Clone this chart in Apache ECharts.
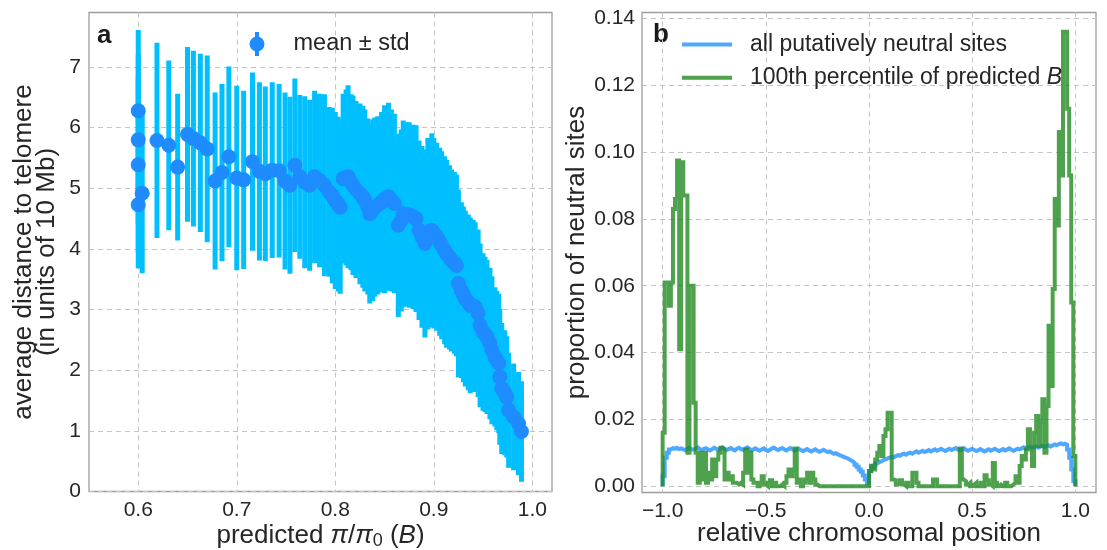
<!DOCTYPE html>
<html>
<head>
<meta charset="utf-8">
<script src="https://cdn.jsdelivr.net/npm/echarts@6/dist/echarts.min.js"></script>
<style>
  html, body { margin: 0; padding: 0; background: #fff; }
  #chart { width: 1107px; height: 550px; }
</style>
</head>
<body>
<div id="chart"></div>
<script>
// ---- Panel a: distance to telomere vs predicted B (mean ± std per B bin) ----
const predB = [
  0.600, 0.600, 0.600, 0.600, 0.604, 0.619, 0.631, 0.640, 0.650, 0.656,
  0.663, 0.670, 0.678, 0.685, 0.692, 0.700, 0.707, 0.716, 0.723, 0.729,
  0.736, 0.743, 0.749, 0.754, 0.759, 0.764, 0.769, 0.774, 0.779, 0.784,
  0.789, 0.794, 0.797, 0.800, 0.803, 0.805, 0.808, 0.811, 0.813, 0.816,
  0.818, 0.821, 0.825, 0.828, 0.830, 0.833, 0.835, 0.838, 0.840, 0.843,
  0.847, 0.850, 0.854, 0.857, 0.860, 0.864, 0.867, 0.869, 0.872, 0.875,
  0.879, 0.882, 0.885, 0.888, 0.891, 0.894, 0.898, 0.900, 0.903, 0.906,
  0.908, 0.911, 0.913, 0.916, 0.918, 0.921, 0.923, 0.925, 0.928, 0.930,
  0.932, 0.935, 0.937, 0.940, 0.942, 0.945, 0.947, 0.950, 0.952, 0.954,
  0.957, 0.959, 0.962, 0.964, 0.966, 0.967, 0.969, 0.972, 0.974, 0.976,
  0.981, 0.986, 0.989
];
const meanDist = [
  6.28, 5.80, 5.39, 4.73, 4.92, 5.79, 5.71, 5.35, 5.89, 5.82,
  5.75, 5.65, 5.12, 5.26, 5.52, 5.17, 5.14, 5.44, 5.28, 5.24,
  5.30, 5.29, 5.12, 5.05, 5.38, 5.19, 5.10, 5.05, 5.19, 5.13,
  5.05, 4.94, 4.88, 4.80, 4.74, 4.69, 5.16, 5.18, 5.19, 5.10,
  5.05, 4.98, 4.91, 4.86, 4.80, 4.70, 4.58, 4.64, 4.69, 4.72,
  4.77, 4.82, 4.86, 4.80, 4.75, 4.39, 4.47, 4.58, 4.57, 4.56,
  4.53, 4.50, 4.31, 4.20, 4.09, 4.25, 4.31, 4.26, 4.20, 4.12,
  4.06, 3.98, 3.92, 3.86, 3.81, 3.77, 3.73, 3.43, 3.32, 3.25,
  3.18, 3.12, 3.07, 3.06, 3.04, 2.94, 2.74, 2.63, 2.59, 2.55,
  2.44, 2.33, 2.22, 2.16, 2.11, 1.89, 1.70, 1.63, 1.56, 1.34,
  1.23, 1.12, 0.99
];
const stdDist = [
  1.33, 1.40, 1.45, 1.05, 1.32, 1.61, 1.40, 1.21, 1.44, 1.45,
  1.47, 1.54, 1.46, 1.46, 1.49, 1.52, 1.47, 1.47, 1.47, 1.44,
  1.45, 1.43, 1.46, 1.46, 1.43, 1.35, 1.42, 1.41, 1.42, 1.43,
  1.50, 1.40, 1.45, 1.46, 1.44, 1.43, 1.40, 1.45, 1.51, 1.45,
  1.48, 1.46, 1.49, 1.50, 1.50, 1.45, 1.48, 1.50, 1.48, 1.47,
  1.49, 1.55, 1.55, 1.50, 1.48, 1.51, 1.50, 1.54, 1.52, 1.53,
  1.52, 1.54, 1.48, 1.50, 1.55, 1.58, 1.60, 1.57, 1.55, 1.55,
  1.55, 1.55, 1.55, 1.52, 1.50, 1.50, 1.50, 1.55, 1.45, 1.45,
  1.45, 1.45, 1.45, 1.42, 1.40, 1.38, 1.35, 1.30, 1.28, 1.27,
  1.25, 1.22, 1.15, 1.15, 1.15, 1.12, 1.08, 1.03, 1.00, 0.95,
  0.88, 0.85, 0.83
];

// ---- Panel b: proportion of neutral sites along chromosome (bins of 0.01 from -1) ----
const binStart = -1.0;
const binWidth = 0.01;
const neutralAll = [
  0.0030, 0.0085, 0.0100, 0.0110, 0.0114, 0.0112, 0.0115, 0.0111, 0.0113, 0.0110,
  0.0108, 0.0112, 0.0115, 0.0110, 0.0109, 0.0113, 0.0116, 0.0111, 0.0108, 0.0112,
  0.0114, 0.0110, 0.0107, 0.0111, 0.0115, 0.0112, 0.0109, 0.0113, 0.0116, 0.0112,
  0.0108, 0.0111, 0.0114, 0.0110, 0.0107, 0.0112, 0.0115, 0.0111, 0.0109, 0.0113,
  0.0116, 0.0112, 0.0108, 0.0110, 0.0113, 0.0109, 0.0106, 0.0110, 0.0113, 0.0108,
  0.0105, 0.0109, 0.0113, 0.0115, 0.0111, 0.0108, 0.0112, 0.0114, 0.0110, 0.0107,
  0.0111, 0.0114, 0.0110, 0.0106, 0.0109, 0.0112, 0.0108, 0.0105, 0.0108, 0.0111,
  0.0107, 0.0104, 0.0107, 0.0110, 0.0106, 0.0103, 0.0106, 0.0109, 0.0105, 0.0102,
  0.0104, 0.0100, 0.0097, 0.0099, 0.0095, 0.0092, 0.0090, 0.0087, 0.0085, 0.0082,
  0.0078, 0.0075, 0.0070, 0.0064, 0.0058, 0.0050, 0.0043, 0.0032, 0.0020, 0.0008,
  0.0045, 0.0055, 0.0062, 0.0068, 0.0072, 0.0074, 0.0078, 0.0080, 0.0083, 0.0085,
  0.0088, 0.0086, 0.0090, 0.0093, 0.0091, 0.0095, 0.0097, 0.0094, 0.0098, 0.0100,
  0.0097, 0.0101, 0.0104, 0.0100, 0.0103, 0.0106, 0.0102, 0.0105, 0.0108, 0.0104,
  0.0107, 0.0110, 0.0106, 0.0109, 0.0112, 0.0108, 0.0105, 0.0109, 0.0112, 0.0108,
  0.0111, 0.0114, 0.0110, 0.0107, 0.0110, 0.0113, 0.0109, 0.0106, 0.0109, 0.0112,
  0.0108, 0.0105, 0.0108, 0.0111, 0.0107, 0.0104, 0.0107, 0.0110, 0.0106, 0.0109,
  0.0112, 0.0108, 0.0105, 0.0108, 0.0111, 0.0107, 0.0110, 0.0113, 0.0109, 0.0106,
  0.0109, 0.0112, 0.0110, 0.0113, 0.0116, 0.0112, 0.0115, 0.0118, 0.0114, 0.0117,
  0.0119, 0.0115, 0.0118, 0.0121, 0.0117, 0.0120, 0.0122, 0.0119, 0.0122, 0.0125,
  0.0123, 0.0126, 0.0128, 0.0125, 0.0127, 0.0124, 0.0110, 0.0085, 0.0050, 0.0015
];
const neutralTopB = [
  0.016, 0.061, 0.061, 0.054, 0.061, 0.083, 0.086, 0.0975, 0.041, 0.097,
  0.087, 0.087, 0.010, 0.060, 0.060, 0.025, 0.010, 0.001, 0.010, 0.002,
  0.010, 0.001, 0.004, 0.002, 0.008, 0.003, 0.008, 0.010, 0.0115, 0.011,
  0.002, 0.004, 0.002, 0.003, 0.001, 0.001, 0.0005, 0.001, 0.0005, 0.004,
  0.011, 0.004, 0.010, 0.002, 0.001, 0.001, 0.0, 0.001, 0.003, 0.0005,
  0.0, 0.001, 0.0018, 0.0, 0.001, 0.0, 0.0, 0.0005, 0.0, 0.001,
  0.003, 0.005, 0.003, 0.005, 0.0113, 0.001, 0.002, 0.0, 0.001, 0.002,
  0.004, 0.001, 0.004, 0.002, 0.0005, 0.0, 0.0, 0.0, 0.0, 0.0,
  0.0, 0.0, 0.0, 0.0, 0.0, 0.0, 0.0, 0.0, 0.0, 0.0,
  0.0, 0.0, 0.0, 0.0, 0.0, 0.0, 0.0, 0.0, 0.0, 0.0,
  0.0045, 0.006, 0.005, 0.008, 0.010, 0.012, 0.009, 0.015, 0.017, 0.022,
  0.022, 0.002, 0.0018, 0.0005, 0.001, 0.0018, 0.0005, 0.0, 0.001, 0.0,
  0.0, 0.004, 0.004, 0.001, 0.0, 0.0, 0.0, 0.0, 0.0, 0.0,
  0.0, 0.002, 0.002, 0.0, 0.0, 0.0, 0.0, 0.0, 0.0, 0.0,
  0.0, 0.0, 0.0, 0.0, 0.0113, 0.002, 0.0015, 0.0005, 0.001, 0.0,
  0.0005, 0.001, 0.0, 0.0, 0.001, 0.0, 0.0033, 0.0018, 0.0005, 0.0,
  0.0069, 0.001, 0.0, 0.0005, 0.0, 0.0, 0.001, 0.0, 0.0, 0.0005,
  0.001, 0.003, 0.001, 0.006, 0.009, 0.008, 0.011, 0.017, 0.012, 0.006,
  0.016, 0.021, 0.012, 0.019, 0.026, 0.010, 0.024, 0.048, 0.030, 0.059,
  0.086, 0.078, 0.106, 0.093, 0.136, 0.136, 0.113, 0.093, 0.055, 0.009
];

// ---- Tick labels ----
const xTicksA = [0.6, 0.7, 0.8, 0.9, 1.0];
const xTickLabelsA = ['0.6', '0.7', '0.8', '0.9', '1.0'];
const yTicksA = [0, 1, 2, 3, 4, 5, 6, 7];
const yTickLabelsA = ['0', '1', '2', '3', '4', '5', '6', '7'];
const xTicksB = [-1.0, -0.5, 0.0, 0.5, 1.0];
const xTickLabelsB = ['\u22121.0', '\u22120.5', '0.0', '0.5', '1.0'];
const yTicksB = [0, 0.02, 0.04, 0.06, 0.08, 0.10, 0.12, 0.14];
const yTickLabelsB = ['0.00', '0.02', '0.04', '0.06', '0.08', '0.10', '0.12', '0.14'];

// ---- Layout ----
const FONT = 'Liberation Sans, Arial, Helvetica, sans-serif';
const TEXT = '#262626';
const frameA = { left: 89, top: 12.5, right: 552, bottom: 491.5 };
const frameB = { left: 642, top: 12.5, right: 1096, bottom: 492.5 };
const xRangeA = [0.55, 1.02], yRangeA = [0, 7.9];
const xRangeB = [-1.1, 1.1], yRangeB = [-0.0019, 0.1418];

function gridRect(f) {
  return { left: f.left, top: f.top, width: f.right - f.left, height: f.bottom - f.top };
}
// sub-grid spanning only the tick range along one direction, full frame along the other
function tickGrid(f, range, lo, hi, dir) {
  if (dir === 'x') {
    const k = (f.right - f.left) / (range[1] - range[0]);
    return { left: f.left + (lo - range[0]) * k, width: (hi - lo) * k, top: f.top, height: f.bottom - f.top };
  }
  const k = (f.bottom - f.top) / (range[1] - range[0]);
  return { left: f.left, width: f.right - f.left, top: f.top + (range[1] - hi) * k, height: (hi - lo) * k };
}
function labelFor(ticks, labels) {
  return v => {
    let best = 0;
    ticks.forEach((t, i) => { if (Math.abs(t - v) < Math.abs(ticks[best] - v)) best = i; });
    return labels[best];
  };
}

const splitStyle = { show: true, lineStyle: { color: '#c4c4c4', width: 1, type: [5, 4] } };
const labelStyle = { fontFamily: FONT, fontSize: 21, color: TEXT, showMinLabel: true, showMaxLabel: true };

function frameAxis(range, extra) {
  return Object.assign({
    type: 'value', min: range[0], max: range[1],
    axisLine: { show: false }, axisTick: { show: false },
    axisLabel: { show: false }, splitLine: { show: false },
    nameLocation: 'middle'
  }, extra);
}
function tickAxis(grid, ticks, labels, margin, extra) {
  return Object.assign({
    gridIndex: grid, type: 'value',
    min: ticks[0], max: ticks[ticks.length - 1], interval: ticks[1] - ticks[0],
    axisLine: { show: false }, axisTick: { show: false },
    axisLabel: Object.assign({ margin: margin, formatter: labelFor(ticks, labels) }, labelStyle),
    splitLine: splitStyle
  }, extra || {});
}
function dummyAxis(grid) {
  return { gridIndex: grid, type: 'value', min: 0, max: 1, show: false };
}

function histPoints(values) {
  const pts = [[binStart, 0]];
  values.forEach((v, i) => pts.push([+(binStart + (i + 1) * binWidth).toFixed(4), v]));
  pts.push([+(binStart + values.length * binWidth).toFixed(4), 0]);
  return pts;
}

const gridCommon = { containLabel: false, outerBoundsMode: 'none' };
const frameStyle = { show: true, borderColor: '#9d9d9d', borderWidth: 1.3, backgroundColor: 'transparent' };
const grids = [
  Object.assign({}, frameStyle, gridCommon, gridRect(frameA)),
  Object.assign({}, gridCommon, tickGrid(frameA, xRangeA, xTicksA[0], xTicksA[xTicksA.length - 1], 'x')),
  Object.assign({}, gridCommon, tickGrid(frameA, yRangeA, yTicksA[0], yTicksA[yTicksA.length - 1], 'y')),
  Object.assign({}, frameStyle, gridCommon, gridRect(frameB)),
  Object.assign({}, gridCommon, tickGrid(frameB, xRangeB, xTicksB[0], xTicksB[xTicksB.length - 1], 'x')),
  Object.assign({}, gridCommon, tickGrid(frameB, yRangeB, yTicksB[0], yTicksB[yTicksB.length - 1], 'y'))
];

const titleStyle = { fontFamily: FONT, fontSize: 26, color: TEXT };

const xAxes = [
  frameAxis(xRangeA, {
    gridIndex: 0,
    name: 'predicted {i|\u03c0}/{i|\u03c0}{s|0} ({i|B})',
    nameGap: 29,
    nameTextStyle: Object.assign({}, titleStyle, {
      lineHeight: 30,
      rich: {
        i: Object.assign({}, titleStyle, { fontStyle: 'italic', lineHeight: 30 }),
        s: { fontFamily: FONT, fontSize: 18, color: TEXT, verticalAlign: 'bottom' }
      }
    })
  }),
  tickAxis(1, xTicksA, xTickLabelsA, 8),
  dummyAxis(2),
  frameAxis(xRangeB, {
    gridIndex: 3,
    name: 'relative chromosomal position',
    nameGap: 28,
    nameTextStyle: titleStyle
  }),
  tickAxis(4, xTicksB, xTickLabelsB, 8),
  dummyAxis(5)
];
const yAxes = [
  frameAxis(yRangeA, {
    gridIndex: 0,
    name: 'average distance to telomere\n(in units of 10 Mb)',
    nameGap: 31,
    nameTextStyle: Object.assign({}, titleStyle, { lineHeight: 23 })
  }),
  dummyAxis(1),
  tickAxis(2, yTicksA, yTickLabelsA, 8),
  frameAxis(yRangeB, {
    gridIndex: 3,
    name: 'proportion of neutral sites',
    nameGap: 52,
    nameTextStyle: titleStyle
  }),
  dummyAxis(4),
  tickAxis(5, yTicksB, yTickLabelsB, 7)
];

const ERR_COLOR = '#00bfff';
const MEAN_COLOR = '#1e8cff';
const BLUE = 'rgba(30,144,255,0.78)';
const GREEN = 'rgba(34,139,34,0.8)';

const errData = predB.map((b, i) => [b, meanDist[i], stdDist[i]]);
const meanData = predB.map((b, i) => [b, meanDist[i]]);

const option = {
  animation: false,
  backgroundColor: '#ffffff',
  grid: grids,
  xAxis: xAxes,
  yAxis: yAxes,
  legend: [
    {
      left: 244.5, top: 27, orient: 'vertical', selectedMode: false,
      data: [{ name: 'mean \u00b1 std',
        icon: 'path://M5.5,0 H9.5 V24 H5.5 Z M0,12 A7.5,7.5 0 1,1 15,12 A7.5,7.5 0 1,1 0,12 Z' }],
      itemWidth: 15, itemHeight: 24,
      textStyle: { fontFamily: FONT, fontSize: 23.5, color: TEXT, lineHeight: 24, padding: [0, 0, 0, 24] }
    },
    {
      left: 677, top: 27.5, orient: 'vertical', selectedMode: false,
      data: ['all putatively neutral sites', '100th percentile of predicted B'],
      icon: 'rect', itemWidth: 50, itemHeight: 4, itemGap: 9.3,
      formatter: name => name.replace(/ B$/, ' {i|B}'),
      textStyle: {
        fontFamily: FONT, fontSize: 23, color: TEXT, lineHeight: 24, padding: [0, 0, 0, 13],
        rich: { i: { fontFamily: FONT, fontSize: 23, color: TEXT, lineHeight: 24, fontStyle: 'italic' } }
      }
    }
  ],
  graphic: [
    { type: 'text', left: 97, top: 23, style: { text: 'a', fontFamily: FONT, fontSize: 26, fontWeight: 'bold', fill: '#1a1a1a' } },
    { type: 'text', left: 653, top: 22, style: { text: 'b', fontFamily: FONT, fontSize: 26, fontWeight: 'bold', fill: '#1a1a1a' } }
  ],
  series: [
    {
      type: 'custom', name: 'std', xAxisIndex: 0, yAxisIndex: 0, silent: true, z: 2,
      encode: { x: 0, y: 1 },
      data: errData,
      renderItem: (params, api) => {
        const x = api.value(0), m = api.value(1), s = api.value(2);
        const hi = api.coord([x, m + s]);
        const lo = api.coord([x, m - s]);
        const w = 5;
        return { type: 'rect', shape: { x: hi[0] - w / 2, y: hi[1], width: w, height: lo[1] - hi[1] },
                 style: { fill: ERR_COLOR } };
      }
    },
    {
      type: 'scatter', name: 'mean \u00b1 std', xAxisIndex: 0, yAxisIndex: 0, z: 3,
      symbol: 'circle', symbolSize: 15, data: meanData,
      itemStyle: { color: MEAN_COLOR, opacity: 1 }
    },
    {
      type: 'line', name: 'all putatively neutral sites', xAxisIndex: 3, yAxisIndex: 3,
      step: 'start', showSymbol: false, symbol: 'none', data: histPoints(neutralAll),
      itemStyle: { color: BLUE },
      lineStyle: { color: BLUE, width: 4, join: 'miter' }
    },
    {
      type: 'line', name: '100th percentile of predicted B', xAxisIndex: 3, yAxisIndex: 3,
      step: 'start', showSymbol: false, symbol: 'none', data: histPoints(neutralTopB),
      itemStyle: { color: GREEN },
      lineStyle: { color: GREEN, width: 4, join: 'miter' }
    }
  ]
};

const chart = echarts.init(document.getElementById('chart'), null, { renderer: 'canvas' });
chart.setOption(option);
</script>
</body>
</html>
